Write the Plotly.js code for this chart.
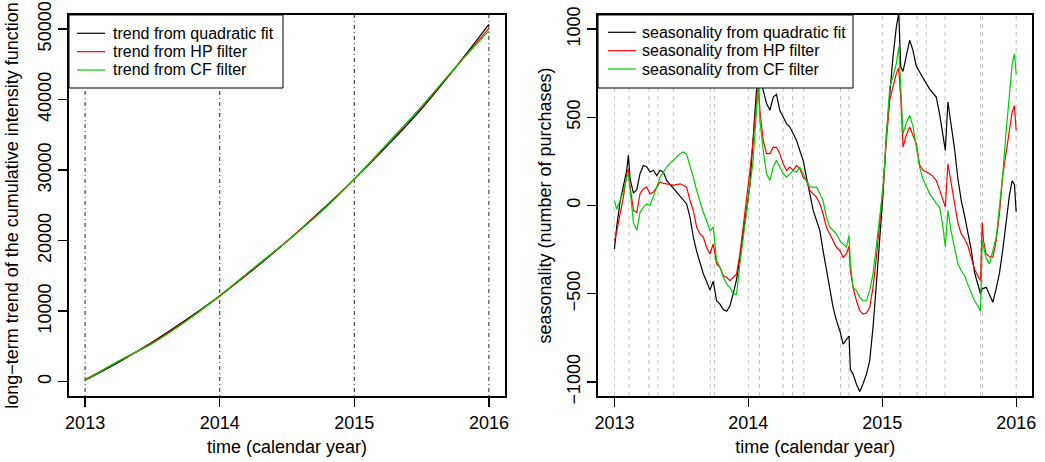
<!DOCTYPE html>
<html><head><meta charset="utf-8">
<script src="https://cdn.plot.ly/plotly-3.0.1.min.js"></script>
<style>html,body{margin:0;padding:0;background:#fff}#chart{width:1045px;height:462px}</style>
</head><body><div id="chart"></div>
<script>
// ---- left panel: long-term trend of cumulative intensity ----
const trendTime = [2013, 2013.25, 2013.5, 2013.75, 2014, 2014.25, 2014.5, 2014.75, 2015, 2015.25, 2015.5, 2015.75, 2016];
const trendQuad = [200, 2770, 5630, 8770, 12190, 15900, 19900, 24200, 28730, 33550, 38700, 44500, 50650];
const trendHP   = [300, 2900, 5500, 8650, 12100, 16000, 19950, 24100, 28750, 33800, 38950, 44500, 50100];
const trendCF   = [150, 2950, 5400, 8550, 12200, 16100, 19900, 24000, 28700, 33850, 39050, 44550, 49750];
const trendTicks = [0, 10000, 20000, 30000, 40000, 50000];

// ---- right panel: seasonality ----
const seasTime = [2013.000,2013.017,2013.042,2013.067,2013.092,2013.104,2013.117,2013.142,2013.167,2013.191,
2013.216,2013.241,2013.266,2013.291,2013.316,2013.341,2013.365,2013.390,2013.415,2013.440,
2013.465,2013.490,2013.515,2013.539,2013.564,2013.589,2013.614,2013.639,2013.664,2013.688,
2013.713,2013.738,2013.763,2013.788,2013.813,2013.838,2013.862,2013.887,2013.912,2013.937,
2013.962,2013.987,2014.012,2014.036,2014.061,2014.074,2014.086,2014.111,2014.136,2014.161,
2014.186,2014.210,2014.235,2014.260,2014.285,2014.310,2014.335,2014.360,2014.384,2014.409,
2014.434,2014.459,2014.484,2014.509,2014.534,2014.558,2014.583,2014.608,2014.633,2014.658,
2014.683,2014.708,2014.732,2014.752,2014.762,2014.782,2014.807,2014.832,2014.857,2014.882,
2014.906,2014.931,2014.956,2014.981,2015.006,2015.031,2015.056,2015.080,2015.105,2015.123,
2015.138,2015.155,2015.180,2015.205,2015.229,2015.254,2015.279,2015.304,2015.329,2015.354,
2015.379,2015.403,2015.428,2015.453,2015.471,2015.490,2015.515,2015.540,2015.565,2015.590,
2015.615,2015.640,2015.664,2015.689,2015.714,2015.734,2015.746,2015.756,2015.776,2015.801,
2015.826,2015.851,2015.876,2015.900,2015.925,2015.950,2015.970,2015.987,2016.000];
const seasQuad = [-246,-120,20,120,200,284,150,70,90,180,
227,220,190,200,170,200,190,142,120,95,
75,57,30,9,-66,-180,-260,-320,-388,-430,
-480,-430,-540,-559,-590,-600,-570,-500,-420,-294,
-142,-20,120,380,620,800,760,653,578,540,
615,630,540,502,464,445,407,369,312,256,
161,66,-28,-85,-142,-256,-369,-483,-578,-653,
-710,-786,-760,-740,-930,-956,-1013,-1055,-1010,-956,
-881,-691,-445,-199,66,407,634,843,1013,1090,
786,760,850,937,880,790,757,720,691,660,
640,615,520,400,312,587,450,320,150,28,
-60,-150,-250,-380,-450,-502,-470,-470,-464,-510,
-549,-470,-380,-250,-100,60,140,120,-35];
const seasHP = [-199,-150,-47,47,180,208,104,-28,-40,66,
95,104,66,76,104,133,125,123,120,114,
120,123,115,104,28,-28,-123,-161,-180,-237,
-275,-218,-331,-350,-398,-407,-426,-407,-388,-275,
-123,28,199,369,597,710,540,369,294,294,
331,330,294,237,199,218,199,227,208,161,
142,85,66,47,9,-47,-123,-161,-199,-237,
-256,-294,-275,-230,-370,-464,-540,-597,-616,-610,
-578,-464,-294,-85,104,369,597,672,748,780,
616,331,400,445,400,350,230,199,190,180,
165,142,90,30,-9,237,120,28,-100,-161,
-190,-230,-300,-360,-400,-426,-95,-200,-275,-290,
-294,-200,-40,170,300,430,530,566,425];
const seasCF = [28,-20,28,80,160,180,90,-100,-140,-40,
-10,9,0,47,104,161,190,218,240,256,
275,294,303,290,230,160,85,20,-40,-85,
-142,-123,-312,-350,-407,-445,-464,-502,-502,-331,
-180,-47,104,256,540,680,483,312,180,142,
218,256,218,180,161,180,199,189,218,180,
142,104,104,104,66,28,-66,-123,-142,-161,
-199,-218,-237,-170,-330,-464,-483,-521,-540,-540,
-483,-388,-237,-66,104,388,672,729,805,900,
691,407,470,511,450,330,218,150,110,66,
40,10,-9,-120,-237,-28,-150,-250,-330,-370,
-400,-450,-500,-540,-570,-600,-200,-230,-300,-331,
-260,-180,0,180,420,660,800,860,746];
const seasTicks = [-1000, -500, 0, 500, 1000];

const yearMarks = [2013, 2014, 2015, 2016];
const holidayMarks = [2013.000, 2013.109, 2013.258, 2013.325, 2013.440, 2013.716, 2013.747,
  2014.000, 2014.083, 2014.260, 2014.330, 2014.414, 2014.688, 2014.751,
  2015.000, 2015.132, 2015.261, 2015.329, 2015.469, 2015.734, 2015.749, 2016.000];

const labelsLeft = ['trend from quadratic fit', 'trend from HP filter', 'trend from CF filter'];
const labelsRight = ['seasonality from quadratic fit', 'seasonality from HP filter', 'seasonality from CF filter'];
const colors = ['#000000', '#ff0000', '#00cd00'];

const W = 1045, H = 462;
const px = v => v / W, py = v => 1 - v / H;
const fontFam = 'Liberation Sans, Arial, Helvetica, sans-serif';

const traces = [];
[trendQuad, trendHP, trendCF].forEach((ys, i) => traces.push({
  x: trendTime, y: ys, type: 'scatter', mode: 'lines', name: labelsLeft[i], showlegend: false,
  line: {color: colors[i], width: 1.2, shape: 'spline'}, xaxis: 'x', yaxis: 'y'
}));
[seasQuad, seasHP, seasCF].forEach((ys, i) => traces.push({
  x: seasTime, y: ys, type: 'scatter', mode: 'lines', name: labelsRight[i], showlegend: false,
  line: {color: colors[i], width: 1.2}, xaxis: 'x2', yaxis: 'y2'
}));

const shapes = [];
yearMarks.forEach(v => shapes.push({type: 'line', xref: 'x', yref: 'y domain', x0: v, x1: v, y0: 0, y1: 1,
  line: {color: '#222', width: 1, dash: '1px,3px,4px,3px'}, layer: 'below'}));
holidayMarks.forEach(v => shapes.push({type: 'line', xref: 'x2', yref: 'y2 domain', x0: v, x1: v, y0: 0, y1: 1,
  line: {color: '#c4c4c4', width: 1, dash: '4px,4px'}, layer: 'below'}));

// legend boxes (drawn like R's legend())
const annotations = [];
function addLegend(left, right, top, bottom, sx0, sx1, tx, rows, texts) {
  shapes.push({type: 'rect', xref: 'paper', yref: 'paper', x0: px(left), x1: px(right), y0: py(bottom), y1: py(top),
    fillcolor: '#fff', line: {color: '#000', width: 1}, layer: 'above'});
  texts.forEach((t, i) => {
    shapes.push({type: 'line', xref: 'paper', yref: 'paper', x0: px(sx0), x1: px(sx1), y0: py(rows[i]), y1: py(rows[i]),
      line: {color: colors[i], width: 1.2}, layer: 'above'});
    annotations.push({xref: 'paper', yref: 'paper', x: px(tx), y: py(rows[i]), xanchor: 'left', yanchor: 'middle',
      text: t, showarrow: false, font: {family: fontFam, size: 16, color: '#000'}});
  });
}
addLegend(69, 283, 15, 88, 77, 105, 111, [33.3, 51.7, 70], labelsLeft);
addLegend(598, 853, 15, 88, 608, 636, 640, [32.3, 50.7, 69], labelsRight);

const axBase = {
  showgrid: false, zeroline: false, showline: true, mirror: true, linecolor: '#000', linewidth: 2,
  ticks: 'outside', ticklen: 9, tickwidth: 1.3, tickcolor: '#000',
  tickfont: {family: fontFam, size: 18, color: '#000'}, automargin: false
};

const layout = {
  width: W, height: H, margin: {l: 0, r: 0, t: 0, b: 0},
  paper_bgcolor: '#fff', plot_bgcolor: '#fff', font: {family: fontFam, color: '#000'},
  showlegend: false,
  xaxis: Object.assign({}, axBase, {domain: [0.066, 0.4833], range: [2012.88, 2016.12],
    tickvals: yearMarks, ticktext: yearMarks.map(String),
    title: {text: 'time (calendar year)', font: {family: fontFam, size: 18}, standoff: 9}}),
  yaxis: Object.assign({}, axBase, {domain: [0.1429, 0.9675], range: [-2030, 51990],
    tickvals: trendTicks, ticktext: trendTicks.map(String), tickangle: -90,
    title: {text: 'long\u2212term trend of the cumulative intensity function', font: {family: fontFam, size: 18}, standoff: 11}}),
  xaxis2: Object.assign({}, axBase, {domain: [0.5726, 0.9878], range: [2012.88, 2016.12], anchor: 'y2',
    tickvals: yearMarks, ticktext: yearMarks.map(String),
    title: {text: 'time (calendar year)', font: {family: fontFam, size: 18}, standoff: 9}}),
  yaxis2: Object.assign({}, axBase, {domain: [0.1429, 0.9675], range: [-1080, 1080], anchor: 'x2',
    tickvals: seasTicks, ticktext: seasTicks.map(v => String(v).replace('-', '\u2212')), tickangle: -90,
    title: {text: 'seasonality (number of purchases)', font: {family: fontFam, size: 18}, standoff: 8}}),
  shapes: shapes,
  annotations: annotations
};

Plotly.newPlot('chart', traces, layout, {displayModeBar: false, staticPlot: true});
</script>
</body></html>
